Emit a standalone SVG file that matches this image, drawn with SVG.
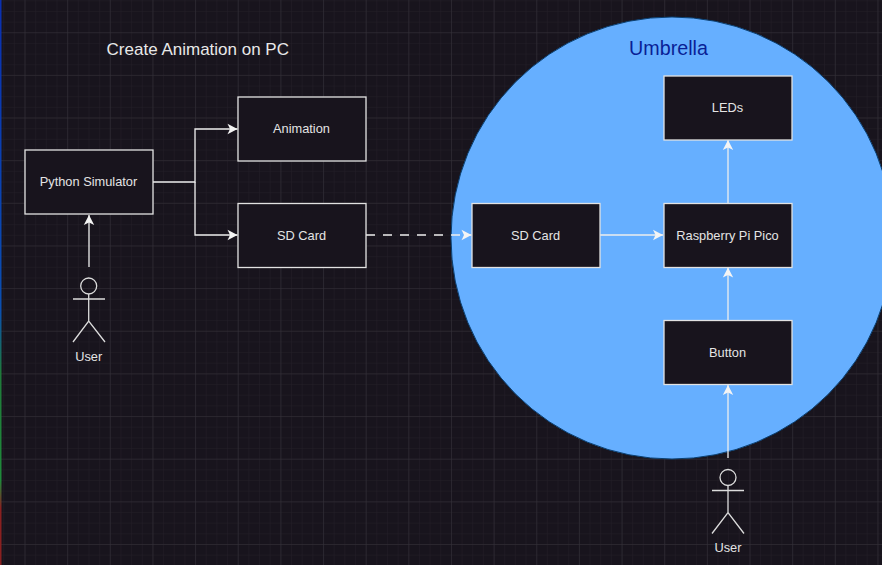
<svg xmlns="http://www.w3.org/2000/svg" width="882" height="565" viewBox="0 0 882 565">
<style>
.box{fill:#18141d;stroke:#e2e2e2;stroke-width:1.3}
.lbl{font-family:"Liberation Sans",Arial,sans-serif;font-size:12.8px;fill:#e4e4e4;text-anchor:middle}
.conn{fill:none;stroke:#eeeeee;stroke-width:1.3}
.actor{fill:none;stroke:#dcdcdc;stroke-width:1.3}
</style>
<defs>
<pattern id="minor" width="10.66" height="10.66" patternUnits="userSpaceOnUse" x="3.2" y="0.3">
<path d="M10.66 0H0V10.66" fill="none" stroke="#231f28" stroke-width="1"/>
</pattern>
<pattern id="major" width="42.65" height="42.65" patternUnits="userSpaceOnUse" x="24.5" y="32.2">
<path d="M42.65 0H0V42.65" fill="none" stroke="#35323a" stroke-width="1"/>
</pattern>
<linearGradient id="edge" x1="0" y1="0" x2="0" y2="1">
<stop offset="0" stop-color="#0a2fb0"/><stop offset="0.55" stop-color="#0a4fb0"/><stop offset="0.66" stop-color="#1f7a3a"/><stop offset="0.85" stop-color="#1f8a3a"/><stop offset="0.9" stop-color="#8a2020"/><stop offset="1" stop-color="#8a2020"/>
</linearGradient>
<marker id="arrow" markerUnits="userSpaceOnUse" markerWidth="12" markerHeight="12" refX="10.500" refY="6" orient="auto">
<path d="M0.500 0.800L10.500 6L0.500 11.200L3 6Z" fill="#f4f4f4"/>
</marker>
</defs>
<rect id="background" width="882" height="565" fill="#18141d"/>
<rect width="882" height="565" fill="url(#minor)"/>
<rect width="882" height="565" fill="url(#major)"/>
<rect width="1.500" height="565" fill="url(#edge)"/>
<g id="umbrella">
<circle cx="672" cy="238" r="221" fill="#66afff" stroke="#0a3f70" stroke-width="1"/>
<text x="668.500" y="55" font-family="'Liberation Sans',Arial,sans-serif" font-size="19.700" fill="#0a1f96" text-anchor="middle">Umbrella</text>
</g>
<text id="title" x="197.800" y="54.500" font-family="'Liberation Sans',Arial,sans-serif" font-size="17" fill="#e8e8e8" text-anchor="middle">Create Animation on PC</text>
<g id="connectors">
<path class="conn" d="M153 182H195V129H237.500" marker-end="url(#arrow)"/>
<path class="conn" d="M195 182V235H237.500" marker-end="url(#arrow)"/>
<path class="conn" d="M89 267V215" marker-end="url(#arrow)"/>
<path class="conn" d="M366 235H471.500" stroke-dasharray="9 8" marker-end="url(#arrow)"/>
<path class="conn" d="M600 235H663" marker-end="url(#arrow)"/>
<path class="conn" d="M728 203V140" marker-end="url(#arrow)"/>
<path class="conn" d="M728 320V267.500" marker-end="url(#arrow)"/>
<path class="conn" d="M728 458V385" marker-end="url(#arrow)"/>
</g>
<g id="python-simulator"><rect class="box" x="25" y="150" width="128" height="64"/><text class="lbl" x="88.500" y="186">Python Simulator</text></g>
<g id="animation"><rect class="box" x="238" y="97" width="128" height="64"/><text class="lbl" x="301.500" y="133">Animation</text></g>
<g id="sd-card-pc"><rect class="box" x="238" y="203.500" width="128" height="64"/><text class="lbl" x="301.500" y="239.500">SD Card</text></g>
<g id="sd-card"><rect class="box" x="472" y="203.500" width="128" height="64"/><text class="lbl" x="535.500" y="239.500">SD Card</text></g>
<g id="pico"><rect class="box" x="664" y="203.500" width="128" height="64"/><text class="lbl" x="727.500" y="239.500">Raspberry Pi Pico</text></g>
<g id="leds"><rect class="box" x="664" y="76" width="128" height="64"/><text class="lbl" x="727.500" y="112">LEDs</text></g>
<g id="button"><rect class="box" x="664" y="320.500" width="128" height="64"/><text class="lbl" x="727.500" y="356.500">Button</text></g>
<g id="user-pc">
<circle class="actor" cx="88.700" cy="286" r="8"/>
<path class="actor" d="M88.700 294V321M73 299H105M73 342L88.700 321L105 342"/>
<text class="lbl" x="88.700" y="360.500">User</text>
</g>
<g id="user-umbrella">
<circle class="actor" cx="728" cy="477.500" r="8"/>
<path class="actor" d="M728 485.500V512.500M712 490.500H744M712 533.500L728 512.500L744 533.500"/>
<text class="lbl" x="728" y="552">User</text>
</g>
</svg>
